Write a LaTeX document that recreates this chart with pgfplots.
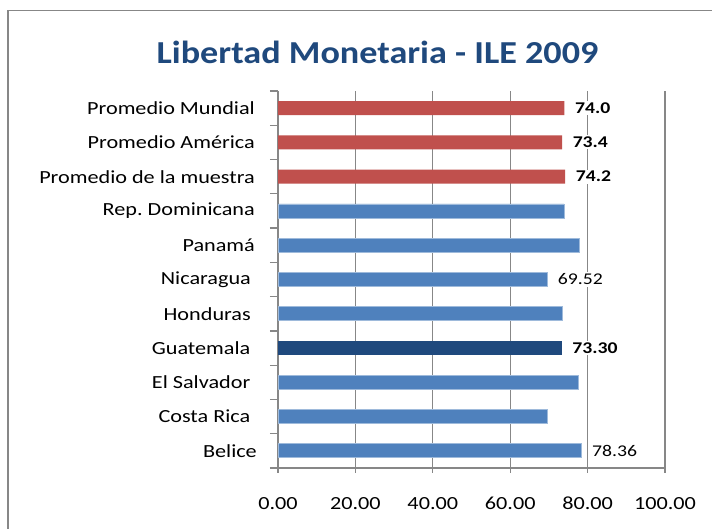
\documentclass[border=0pt]{standalone}
\usepackage{pgfplots}
\pgfplotsset{compat=1.18}
\usepackage{pgfplotstable}
\usepackage{fontspec}
\setmainfont{Carlito}[FakeStretch=1.2]
\newfontfamily\titlefont{Carlito}[FakeStretch=1.13]
\definecolor{barred}{HTML}{C0504D}
\definecolor{barblue}{HTML}{4F81BD}
\definecolor{bardark}{HTML}{1F497D}
\definecolor{titleblue}{HTML}{1F497D}
\definecolor{gridgray}{HTML}{878787}

\pgfplotstableread{
y x
10 74.0
9 73.4
8 74.2
}\avgdata
\pgfplotstableread{
y x
5 69.52
0 78.36
}\ctrylab
\pgfplotstableread{
y x
7 73.9
6 78.0
4 73.6
2 77.6
1 69.5
}\ctrydata
\pgfplotstableread{
y x
3 73.30
}\guatdata

\begin{document}
\begin{tikzpicture}
\useasboundingbox (0,0) rectangle (712bp,529bp);
\fill[white] (0,0) rectangle (712bp,529bp);
\draw[gridgray, line width=1.6bp] (8bp,0) -- (8bp,518.3bp) -- (712bp,518.3bp);
\node[anchor=base, text=titleblue, font=\titlefont\bfseries\fontsize{32bp}{35bp}\selectfont]
  at (377.5bp,465.7bp) {Libertad Monetaria - ILE 2009};
\begin{axis}[
  at={(278bp,61bp)}, anchor=south west,
  scale only axis, width=387bp, height=377bp,
  xmin=0, xmax=100, ymin=-0.5, ymax=10.5,
  axis x line=bottom, axis y line=left,
  axis line style={-, draw=gridgray, line width=1.2bp},
  /pgf/number format/assume math mode=true,
  tick align=outside,
  major tick length=5bp, minor tick length=8bp,
  xtick={0,20,...,100},
  xticklabel={\pgfmathprintnumber[fixed,fixed zerofill,precision=2]{\tick}},
  xticklabel style={anchor=north, inner sep=0pt, yshift=-24bp, font=\fontsize{18.5bp}{20bp}\selectfont},
  xmajorgrids, grid style={gridgray, line width=1.2bp},
  ytick={0,...,10},
  yticklabels={Belice\rule{0pt}{0pt}\kern-2bp, Costa Rica\rule{4.5bp}{0pt}, El Salvador\rule{4.5bp}{0pt}, Guatemala\rule{4.5bp}{0pt}, Honduras\rule{4bp}{0pt}, Nicaragua\rule{4bp}{0pt}, Panamá, Rep.\ Dominicana, Promedio de la muestra, Promedio América, Promedio Mundial},
  yticklabel style={anchor=east, inner sep=0pt, xshift=-18bp, font=\fontsize{18.5bp}{20bp}\selectfont},
  major y tick style={draw=none},
  minor ytick={-0.5,0.5,...,10.5},
  minor y tick style={draw=gridgray, line width=1.2bp},
  major x tick style={draw=gridgray, line width=1.2bp},
  xbar, bar width=14bp, bar shift=0pt,
  nodes near coords style={anchor=west, inner sep=1.5bp, xshift=9bp, fill=white, text=black},
]
\addplot[fill=barred, draw=none,
  nodes near coords={\pgfmathprintnumber[fixed,fixed zerofill,precision=1]{\pgfplotspointmeta}},
  every node near coord/.append style={font=\bfseries\fontsize{16.4bp}{18bp}\selectfont},
  point meta=x] table[x=x,y=y] {\avgdata};
\addplot[fill=barblue, draw=barblue!55!white, line width=0.8bp] table[x=x,y=y] {\ctrydata};
\addplot[fill=barblue, draw=barblue!55!white, line width=0.8bp,
  nodes near coords={\pgfmathprintnumber[fixed,fixed zerofill,precision=2]{\pgfplotspointmeta}},
  every node near coord/.append style={font=\fontsize{16.4bp}{18bp}\selectfont},
  point meta=x] table[x=x,y=y] {\ctrylab};
\addplot[fill=bardark, draw=none,
  nodes near coords={\pgfmathprintnumber[fixed,fixed zerofill,precision=2]{\pgfplotspointmeta}},
  every node near coord/.append style={font=\bfseries\fontsize{16.4bp}{18bp}\selectfont},
  point meta=x] table[x=x,y=y] {\guatdata};
\end{axis}
\end{tikzpicture}
\end{document}
